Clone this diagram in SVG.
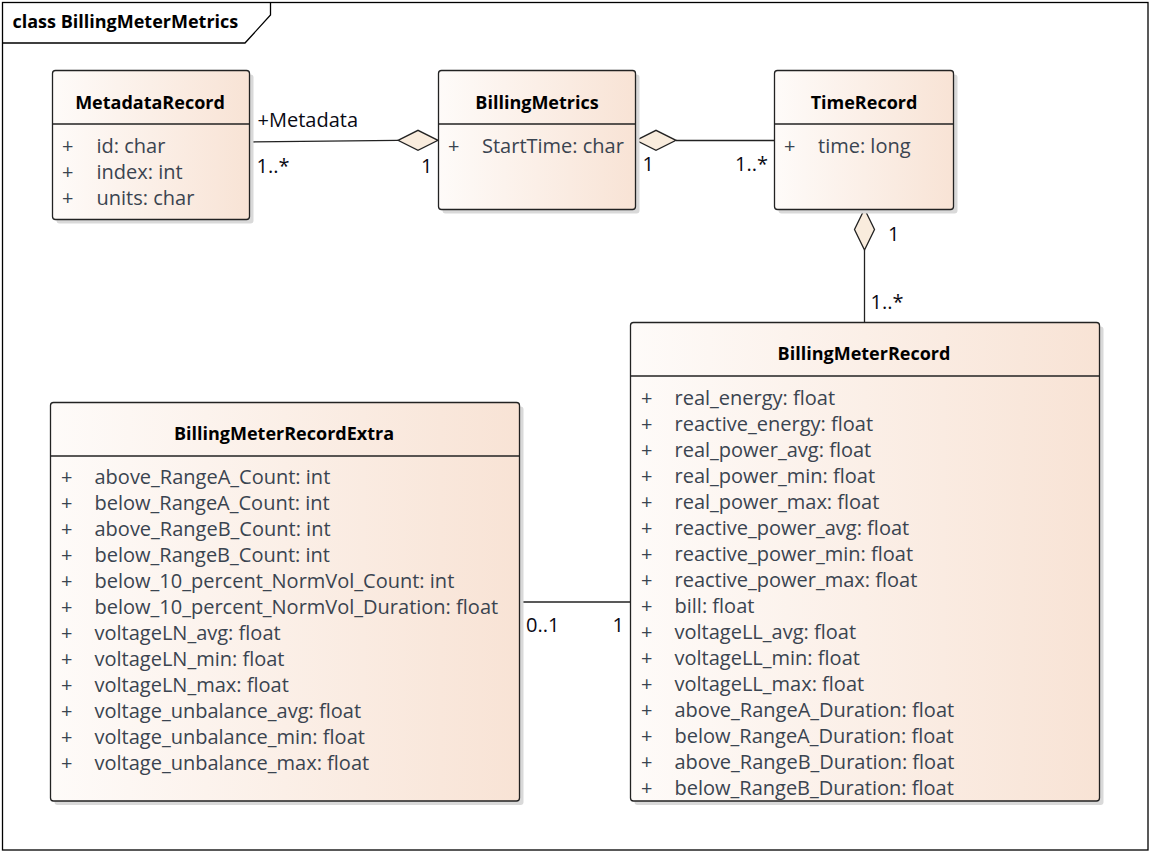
<svg xmlns="http://www.w3.org/2000/svg" width="1150" height="852" viewBox="0 0 1150 852">
<defs>
<linearGradient id="g" x1="0" y1="0" x2="1" y2="0">
<stop offset="0" stop-color="#fefbf9"/>
<stop offset="1" stop-color="#f8e3d5"/>
</linearGradient>
</defs>
<style>
.box{fill:url(#g);stroke:#222;stroke-width:1.3}
.sh{fill:#d9d9d9}
.sep{stroke:#222;stroke-width:1.3}
.t{font-family:"Open Sans","Noto Sans",sans-serif;font-weight:bold;font-size:18px;fill:#000;text-anchor:middle}
.a{font-family:"Open Sans","Noto Sans",sans-serif;font-size:20px;fill:#3a4450}
.m{font-family:"Open Sans","Noto Sans",sans-serif;font-size:20px;fill:#0a0a14}
.ln{stroke:#222;stroke-width:1.3;fill:none}
.dm{fill:#f9ecdd;stroke:#222;stroke-width:1.3}
</style>
<rect width="1150" height="852" fill="#fff"/>
<g id="frame">
<rect x="2.5" y="2.5" width="1145.5" height="847.5" fill="none" stroke="#000" stroke-width="1.3"/>
<path d="M2.5,43 H245 L270.5,15 V2.5" fill="none" stroke="#000" stroke-width="1.3"/>
<text x="12.5" y="28" style="font-family:'Open Sans','Noto Sans',sans-serif;font-weight:bold;font-size:18px;fill:#000">class BillingMeterMetrics</text>
</g>
<g id="connectors">
<path class="ln" d="M249.5,142 L398,140.3"/>
<polygon class="dm" points="398,140.3 418,130.3 438,140.3 418,150.3"/>
<path class="ln" d="M676,140.5 H774.5"/>
<polygon class="dm" points="636,140.3 656,130.3 676,140.3 656,150.3"/>
<path class="ln" d="M864.5,250 V322.5"/>
<polygon class="dm" points="864.5,209 874.5,229.5 864.5,250 854.5,229.5"/>
<path class="ln" d="M519.5,602 H630.5"/>
<text class="m" x="257.5" y="127">+Metadata</text>
<text class="m" x="256.5" y="172.5">1..*</text>
<text class="m" x="421" y="172.5">1</text>
<text class="m" x="642.5" y="171">1</text>
<text class="m" x="735" y="171">1..*</text>
<text class="m" x="888" y="241">1</text>
<text class="m" x="870.5" y="309">1..*</text>
<text class="m" x="526" y="632">0..1</text>
<text class="m" x="612.5" y="632">1</text>
</g>
<g id="MetadataRecord">
<rect class="sh" x="56.5" y="74.5" width="197" height="149" rx="3"/>
<rect class="box" x="52.5" y="70.5" width="197" height="149" rx="3"/>
<line class="sep" x1="52.5" y1="124" x2="249.5" y2="124"/>
<text class="t" x="150" y="108.5">MetadataRecord</text>
<text class="a" x="62" y="152.5">+</text><text class="a" x="96.5" y="152.5">id: char</text>
<text class="a" x="62" y="178.5">+</text><text class="a" x="96.5" y="178.5">index: int</text>
<text class="a" x="62" y="204.5">+</text><text class="a" x="96.5" y="204.5">units: char</text>
</g>
<g id="BillingMetrics">
<rect class="sh" x="442.5" y="74.5" width="197" height="139" rx="3"/>
<rect class="box" x="438.5" y="70.5" width="197" height="139" rx="3"/>
<line class="sep" x1="438.5" y1="124" x2="635.5" y2="124"/>
<text class="t" x="537" y="108.5">BillingMetrics</text>
<text class="a" x="448" y="152.5">+</text><text class="a" x="482" y="152.5">StartTime: char</text>
</g>
<g id="TimeRecord">
<rect class="sh" x="778.5" y="74.5" width="179" height="139" rx="3"/>
<rect class="box" x="774.5" y="70.5" width="179" height="139" rx="3"/>
<line class="sep" x1="774.5" y1="124" x2="953.5" y2="124"/>
<text class="t" x="864" y="108.5">TimeRecord</text>
<text class="a" x="784" y="152.5">+</text><text class="a" x="818" y="152.5">time: long</text>
</g>
<g id="BillingMeterRecord">
<rect class="sh" x="634.5" y="326.5" width="469" height="478.5" rx="3"/>
<rect class="box" x="630.5" y="322.5" width="469" height="478.5" rx="3"/>
<line class="sep" x1="630.5" y1="376" x2="1099.5" y2="376"/>
<text class="t" x="864" y="360">BillingMeterRecord</text>
<g class="a">
<text x="641" y="404.5">+</text><text x="674.5" y="404.5">real_energy: float</text>
<text x="641" y="430.5">+</text><text x="674.5" y="430.5">reactive_energy: float</text>
<text x="641" y="456.5">+</text><text x="674.5" y="456.5">real_power_avg: float</text>
<text x="641" y="482.5">+</text><text x="674.5" y="482.5">real_power_min: float</text>
<text x="641" y="508.5">+</text><text x="674.5" y="508.5">real_power_max: float</text>
<text x="641" y="534.5">+</text><text x="674.5" y="534.5">reactive_power_avg: float</text>
<text x="641" y="560.5">+</text><text x="674.5" y="560.5">reactive_power_min: float</text>
<text x="641" y="586.5">+</text><text x="674.5" y="586.5">reactive_power_max: float</text>
<text x="641" y="612.5">+</text><text x="674.5" y="612.5">bill: float</text>
<text x="641" y="638.5">+</text><text x="674.5" y="638.5">voltageLL_avg: float</text>
<text x="641" y="664.5">+</text><text x="674.5" y="664.5">voltageLL_min: float</text>
<text x="641" y="690.5">+</text><text x="674.5" y="690.5">voltageLL_max: float</text>
<text x="641" y="716.5">+</text><text x="674.5" y="716.5">above_RangeA_Duration: float</text>
<text x="641" y="742.5">+</text><text x="674.5" y="742.5">below_RangeA_Duration: float</text>
<text x="641" y="768.5">+</text><text x="674.5" y="768.5">above_RangeB_Duration: float</text>
<text x="641" y="794.5">+</text><text x="674.5" y="794.5">below_RangeB_Duration: float</text>
</g>
</g>
<g id="BillingMeterRecordExtra">
<rect class="sh" x="54.5" y="406.5" width="469" height="398.5" rx="3"/>
<rect class="box" x="50.5" y="402.5" width="469" height="398.5" rx="3"/>
<line class="sep" x1="50.5" y1="456" x2="519.5" y2="456"/>
<text class="t" x="284" y="440">BillingMeterRecordExtra</text>
<g class="a">
<text x="61" y="484">+</text><text x="94.5" y="484">above_RangeA_Count: int</text>
<text x="61" y="510">+</text><text x="94.5" y="510">below_RangeA_Count: int</text>
<text x="61" y="536">+</text><text x="94.5" y="536">above_RangeB_Count: int</text>
<text x="61" y="562">+</text><text x="94.5" y="562">below_RangeB_Count: int</text>
<text x="61" y="588">+</text><text x="94.5" y="588">below_10_percent_NormVol_Count: int</text>
<text x="61" y="614">+</text><text x="94.5" y="614">below_10_percent_NormVol_Duration: float</text>
<text x="61" y="640">+</text><text x="94.5" y="640">voltageLN_avg: float</text>
<text x="61" y="666">+</text><text x="94.5" y="666">voltageLN_min: float</text>
<text x="61" y="692">+</text><text x="94.5" y="692">voltageLN_max: float</text>
<text x="61" y="718">+</text><text x="94.5" y="718">voltage_unbalance_avg: float</text>
<text x="61" y="744">+</text><text x="94.5" y="744">voltage_unbalance_min: float</text>
<text x="61" y="770">+</text><text x="94.5" y="770">voltage_unbalance_max: float</text>
</g>
</g>
</svg>
